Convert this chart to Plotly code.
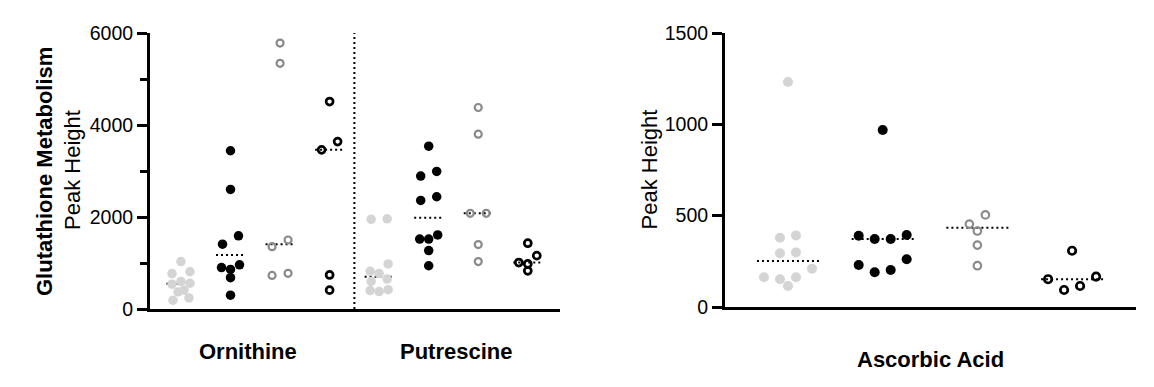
import plotly.graph_objects as go

# ---------------- data ----------------
left_categories = ["Ornithine", "Putrescine"]
right_categories = ["Ascorbic Acid"]

orn_g1 = [1030, 810, 770, 600, 560, 540, 410, 370, 240, 190]
orn_g2 = [3440, 2600, 1590, 1410, 960, 900, 860, 680, 300]
orn_g3 = [5780, 5340, 1500, 1355, 775, 730]
orn_g4 = [4510, 3640, 3460, 740, 410]

put_g1 = [1960, 1950, 980, 820, 770, 650, 600, 420, 400, 380]
put_g2 = [3540, 2990, 2890, 2440, 2360, 1610, 1520, 1520, 1270, 940]
put_g3 = [4380, 3800, 2080, 2080, 1400, 1030]
put_g4 = [1430, 1160, 1010, 980, 830]

asc_g1 = [1232, 392, 379, 299, 294, 210, 163, 163, 152, 115]
asc_g2 = [969, 394, 390, 372, 372, 261, 230, 203, 190]
asc_g3 = [504, 454, 416, 339, 226]
asc_g4 = [308, 166, 152, 115, 93]

left_medians = [550, 1175, 1410, 3460, 700, 1985, 2080, 1010]
right_medians = [252, 372, 434, 152]

left_ticks = [0, 2000, 4000, 6000]
right_ticks = [0, 500, 1000, 1500]

# ---------------- styles ----------------
W, H = 1154, 387
FONT = "Liberation Sans, Arial, Helvetica, sans-serif"
LIGHT = "#d4d4d4"
MID = "#8a8a8a"
BLACK = "#000000"

group_styles = [
    dict(symbol="circle", color=LIGHT, line=dict(width=0, color=LIGHT)),
    dict(symbol="circle", color=BLACK, line=dict(width=0, color=BLACK)),
    dict(symbol="circle-open", color=MID, line=dict(width=2.2, color=MID)),
    dict(symbol="circle-open", color=BLACK, line=dict(width=2.7, color=BLACK)),
]

# pixel geometry of the two panels
L_X0, L_X1, L_YT, L_YB = 150, 560, 33, 309
R_X0, R_X1, R_YT, R_YB = 725, 1136, 33, 307
L_RANGE_X = [0.375, 8.65]
R_RANGE_X = [0.335, 4.675]
L_RANGE_Y = [0, 6000]
R_RANGE_Y = [0, 1500]


def swarm(values, xppu, yppu, row_h, spacing, maxw):
    """Row-based scatter layout (like a column scatter): points whose pixel
    heights fall within row_h share a row and are spread side by side."""
    n = len(values)
    order = sorted(range(n), key=lambda j: -values[j])
    rows, cur, start = [], [], None
    for i in order:
        y = values[i] * yppu
        if cur and start - y > row_h:
            rows.append(cur)
            cur = []
        if not cur:
            start = y
        cur.append(i)
    if cur:
        rows.append(cur)
    offs = [0.0] * n
    for row in rows:
        m = len(row)
        if m == 1:
            continue
        s = min(spacing, 2 * maxw / (m - 1))
        pos = [(j - (m - 1) / 2) * s for j in range(m)]
        pos.sort(key=lambda p: (-abs(p), -p))
        # alternate outer right / outer left, moving inward
        for idx, p in zip(row, pos):
            offs[idx] = p / xppu
    return offs


fig = go.Figure()

l_xppu = (L_X1 - L_X0) / (L_RANGE_X[1] - L_RANGE_X[0])
l_yppu = (L_YB - L_YT) / (L_RANGE_Y[1] - L_RANGE_Y[0])
r_xppu = (R_X1 - R_X0) / (R_RANGE_X[1] - R_RANGE_X[0])
r_yppu = (R_YB - R_YT) / (R_RANGE_Y[1] - R_RANGE_Y[0])

left_groups = [orn_g1, orn_g2, orn_g3, orn_g4, put_g1, put_g2, put_g3, put_g4]
right_groups = [asc_g1, asc_g2, asc_g3, asc_g4]

DOT = "2px,3px"

# median lines (drawn first, behind points)
for k, med in enumerate(left_medians):
    c = k + 1
    hw = 14.5 / l_xppu
    fig.add_trace(go.Scatter(x=[c - hw, c + hw], y=[med, med], mode="lines",
                             line=dict(color=BLACK, width=2, dash=DOT),
                             xaxis="x", yaxis="y", showlegend=False, hoverinfo="skip"))
for k, med in enumerate(right_medians):
    c = k + 1
    hw = 31 / r_xppu
    fig.add_trace(go.Scatter(x=[c - hw, c + hw], y=[med, med], mode="lines",
                             line=dict(color=BLACK, width=2, dash=DOT),
                             xaxis="x2", yaxis="y2", showlegend=False, hoverinfo="skip"))

# points
for k, vals in enumerate(left_groups):
    c = k + 1
    st = group_styles[k % 4]
    offs = swarm(vals, l_xppu, l_yppu, row_h=10, spacing=16, maxw=9)
    size = 9.5 if st["symbol"] == "circle" else 7
    fig.add_trace(go.Scatter(
        x=[c + o for o in offs], y=vals, mode="markers",
        marker=dict(symbol=st["symbol"], size=size, color=st["color"], line=st["line"]),
        xaxis="x", yaxis="y", showlegend=False, cliponaxis=False))

for k, vals in enumerate(right_groups):
    c = k + 1
    st = group_styles[k]
    offs = swarm(vals, r_xppu, r_yppu, row_h=14, spacing=16, maxw=25)
    size = 10 if st["symbol"] == "circle" else 7.5
    fig.add_trace(go.Scatter(
        x=[c + o for o in offs], y=vals, mode="markers",
        marker=dict(symbol=st["symbol"], size=size, color=st["color"], line=st["line"]),
        xaxis="x2", yaxis="y2", showlegend=False, cliponaxis=False))

# vertical dotted divider between Ornithine and Putrescine
fig.add_shape(type="line", xref="x", yref="y", x0=4.5, x1=4.5, y0=0, y1=6000,
              line=dict(color=BLACK, width=2, dash=DOT))

tickfont = dict(family=FONT, size=19.5, color=BLACK)
xcommon = dict(showline=True, linewidth=3, linecolor=BLACK, showticklabels=False,
               ticks="", showgrid=False, zeroline=False, fixedrange=True, automargin=False)
ycommon = dict(showline=True, linewidth=3, linecolor=BLACK, ticks="outside",
               ticklen=10, tickwidth=3, tickcolor=BLACK, tickfont=tickfont,
               showgrid=False, zeroline=False, fixedrange=True, automargin=False)

fig.update_layout(
    width=W, height=H,
    margin=dict(l=0, r=0, t=0, b=0, autoexpand=False),
    paper_bgcolor="white", plot_bgcolor="white",
    font=dict(family=FONT, color=BLACK),
    xaxis=dict(domain=[L_X0 / W, L_X1 / W], range=L_RANGE_X, anchor="y", **xcommon),
    yaxis=dict(domain=[1 - L_YB / H, 1 - L_YT / H], range=L_RANGE_Y, anchor="x",
               tickvals=left_ticks, ticktext=[str(t) for t in left_ticks],
               minor=dict(dtick=1000, ticks="outside", ticklen=7, tickwidth=3, tickcolor=BLACK),
               **ycommon),
    xaxis2=dict(domain=[R_X0 / W, R_X1 / W], range=R_RANGE_X, anchor="y2", **xcommon),
    yaxis2=dict(domain=[1 - R_YB / H, 1 - R_YT / H], range=R_RANGE_Y, anchor="x2",
                tickvals=right_ticks, ticktext=[str(t) for t in right_ticks], **ycommon),
)

titlefont_b = dict(family=FONT, size=22, color=BLACK)
ann = [
    dict(text="<b>Glutathione Metabolism</b>", x=44 / W, y=1 - 172 / H, textangle=-90),
    dict(text="Peak Height", x=72 / W, y=1 - 170 / H, textangle=-90),
    dict(text="Peak Height", x=648.5 / W, y=1 - 170 / H, textangle=-90),
    dict(text="<b>" + left_categories[0] + "</b>", x=248 / W, y=1 - 351 / H, textangle=0),
    dict(text="<b>" + left_categories[1] + "</b>", x=456 / W, y=1 - 351 / H, textangle=0),
    dict(text="<b>" + right_categories[0] + "</b>", x=930 / W, y=1 - 359.5 / H, textangle=0),
]
for a in ann:
    fig.add_annotation(xref="paper", yref="paper", showarrow=False,
                       xanchor="center", yanchor="middle", font=titlefont_b, **a)

fig.write_html("out.html")
